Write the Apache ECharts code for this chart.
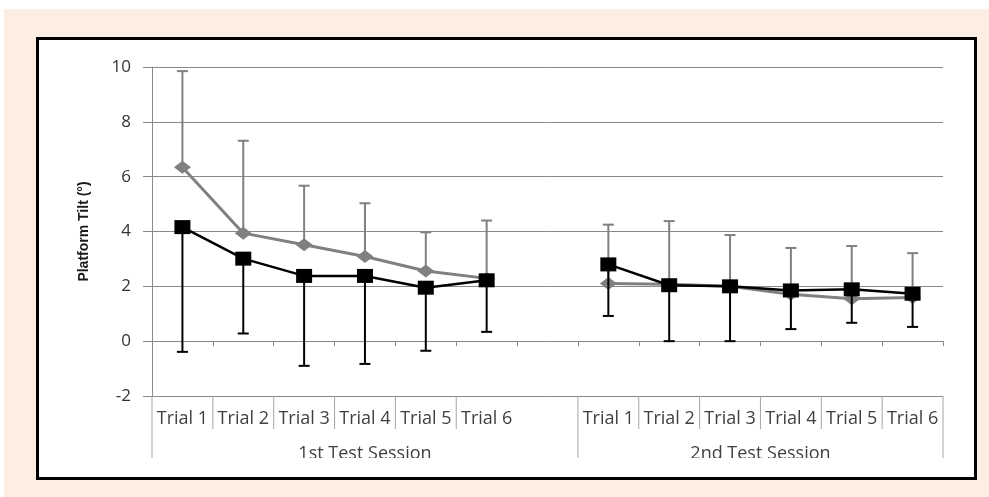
<!DOCTYPE html>
<html><head><meta charset="utf-8">
<script src="https://cdn.jsdelivr.net/npm/echarts@6/dist/echarts.min.js"></script>
<style>
html,body{margin:0;padding:0;width:989px;height:497px;overflow:hidden;background:#fff;}
#bg{position:absolute;left:4px;top:9px;width:985px;height:488px;background:#FDEEE4;}
#frame{position:absolute;left:36px;top:37px;width:935px;height:437px;border:3px solid #000;background:#fff;}
#chart{position:absolute;left:0;top:0;width:989px;height:497px;}
#mask{position:absolute;left:40px;top:458px;width:930px;height:19px;background:#fff;}
</style></head>
<body>
<div id="bg"></div><div id="frame"></div><div id="chart"></div><div id="mask"></div>
<script>
const categories = ['Trial 1','Trial 2','Trial 3','Trial 4','Trial 5','Trial 6','','Trial 1','Trial 2','Trial 3','Trial 4','Trial 5','Trial 6'];
const sessionLabels = ['1st Test Session','2nd Test Session'];
const sessionBounds = [[0,7],[7,13]];           // category boundary indices of each session group
const trialDividers = [1,2,3,4,5,8,9,10,11,12]; // short divider boundaries
const groupDividers = [0,7,13];                  // long divider boundaries
const grayMean  = [6.34,3.94,3.52,3.09,2.56,2.29,null,2.10,2.08,2.00,1.71,1.55,1.59];
const grayUpper = [9.85,7.31,5.67,5.03,3.97,4.40,null,4.25,4.38,3.87,3.40,3.47,3.21];
const blackMean = [4.16,3.01,2.38,2.38,1.95,2.22,null,2.80,2.04,2.00,1.85,1.89,1.73];
const blackLower= [-0.39,0.28,-0.90,-0.83,-0.35,0.34,null,0.92,0.00,0.00,0.44,0.67,0.52];
const yMin = -2, yMax = 10, yStep = 2;
const yName = 'Platform Tilt (°)';

const GRID = '#8a8a8a';
const FONT = 'Open Sans';

function errData(mean, ext){
  const out = [];
  mean.forEach((m,i)=>{ if(m!=null && ext[i]!=null) out.push([i, m, ext[i]]); });
  return out;
}
function errRender(color){
  return function(params, api){
    const x = api.value(0), m = api.value(1), e = api.value(2);
    const p0 = api.coord([x, m]), p1 = api.coord([x, e]);
    return {type:'group', children:[
      {type:'line', shape:{x1:p0[0],y1:p0[1],x2:p1[0],y2:p1[1]}, style:{stroke:color,lineWidth:2}},
      {type:'line', shape:{x1:p1[0]-5.5,y1:p1[1],x2:p1[0]+5.5,y2:p1[1]}, style:{stroke:color,lineWidth:2}}
    ]};
  };
}
function boundaryX(api, b){
  const idx = Math.min(b, categories.length-1);
  const c = api.coord([idx, yMin]);
  const band = api.size([1,0])[0];
  return [b <= categories.length-1 ? c[0]-band/2 : c[0]+band/2, c[1]];
}
const dividerData = trialDividers.map(b=>[Math.min(b,12), yMin, b, 0]).concat(groupDividers.map(b=>[Math.min(b,12), yMin, b, 1]));
const sessionData = sessionBounds.map((s,i)=>[s[0], yMin, s[0], s[1], i]);

const chart = echarts.init(document.getElementById('chart'), null, {renderer:'canvas'});
chart.setOption({
  animation:false,
  backgroundColor:'transparent',
  grid:{left:152, right:46, top:67, bottom:101, containLabel:false},
  xAxis:[
    {type:'category', data:categories, position:'bottom',
     axisLine:{show:true, onZero:true, lineStyle:{color:GRID,width:1}},
     axisTick:{show:true, interval:0, length:5, lineStyle:{color:GRID}},
     axisLabel:{show:false}, splitLine:{show:false}},
    {type:'category', data:categories, position:'bottom',
     axisLine:{show:false, onZero:false}, axisTick:{show:false},
     axisLabel:{show:true, interval:0, margin:14, fontSize:18, fontFamily:FONT, color:'#404040'},
     splitLine:{show:false}}
  ],
  yAxis:{type:'value', min:yMin, max:yMax, interval:yStep,
    name:yName, nameLocation:'middle', nameGap:61, nameRotate:90,
    nameTextStyle:{fontSize:14, fontWeight:'bold', fontFamily:'Liberation Sans', color:'#1a1a1a'},
    axisLine:{show:true, lineStyle:{color:GRID,width:1}},
    axisTick:{show:true, length:9, lineStyle:{color:GRID}},
    axisLabel:{fontSize:17, fontFamily:FONT, color:'#333', margin:21},
    splitLine:{show:true, lineStyle:{color:GRID,width:1}}},
  series:[
    {type:'custom', name:'grayErr', xAxisIndex:0, clip:false, z:2, silent:true,
     data:errData(grayMean, grayUpper), renderItem:errRender('#808080')},
    {type:'line', name:'gray', xAxisIndex:0, data:grayMean, z:3, connectNulls:false,
     symbol:'diamond', symbolSize:[17,13], showAllSymbol:true,
     lineStyle:{color:'#808080', width:3}, itemStyle:{color:'#808080'}},
    {type:'custom', name:'blackErr', xAxisIndex:0, clip:false, z:4, silent:true,
     data:errData(blackMean, blackLower), renderItem:errRender('#000')},
    {type:'line', name:'black', xAxisIndex:0, data:blackMean, z:5, connectNulls:false,
     symbol:'rect', symbolSize:[16,14], showAllSymbol:true,
     lineStyle:{color:'#000', width:2.5}, itemStyle:{color:'#000'}},
    {type:'custom', name:'dividers', xAxisIndex:0, clip:false, silent:true, z:1,
     data:dividerData,
     renderItem:function(params, api){
       const b = api.value(2), isGroup = api.value(3);
       const p = boundaryX(api, b);
       const len = isGroup ? 62 : 33;
       return {type:'line', shape:{x1:p[0],y1:p[1],x2:p[0],y2:p[1]+len}, style:{stroke:'#a6a6a6',lineWidth:1}};
     }},
    {type:'custom', name:'sessions', xAxisIndex:0, clip:false, silent:true, z:1,
     data:sessionData,
     renderItem:function(params, api){
       const a = boundaryX(api, api.value(2)), b = boundaryX(api, api.value(3));
       return {type:'text', style:{x:(a[0]+b[0])/2, y:a[1]+58, text:sessionLabels[api.value(4)],
         fontSize:18, fontFamily:FONT, fill:'#404040', align:'center', verticalAlign:'middle'}};
     }}
  ]
});
</script>
</body></html>
